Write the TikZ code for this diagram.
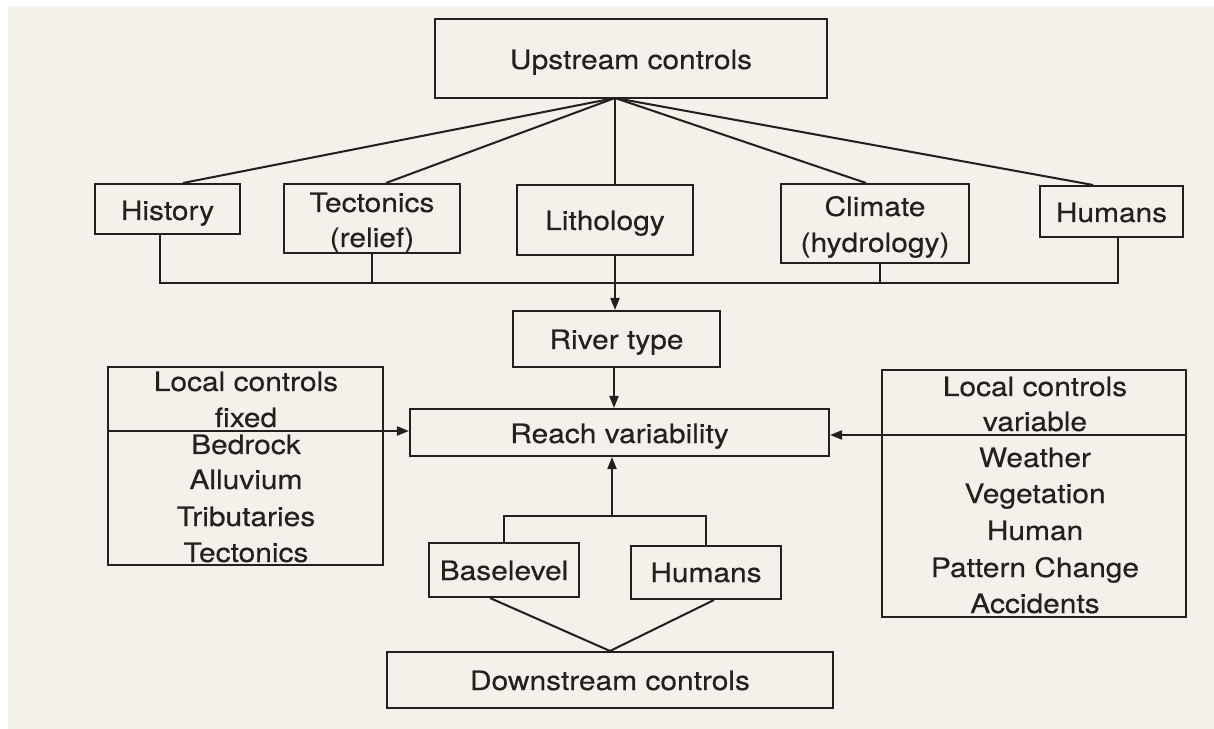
\documentclass[tikz,border=0pt]{standalone}
\usepackage{fontspec}
\setmainfont[FakeStretch=1.12,FakeBold=0.3]{TeX Gyre Heros}
\usetikzlibrary{arrows.meta,fit,calc}
\definecolor{paper}{RGB}{243,241,233}
\definecolor{ink}{RGB}{36,32,29}
\begin{document}
\begin{tikzpicture}[x=0.02cm,y=-0.02cm,
  box/.style={draw=ink,line width=1.15pt,inner sep=0pt},
  lbl/.style={anchor=base,text=ink,inner sep=0pt,font=\fontsize{15.2pt}{18pt}\selectfont},
  link/.style={draw=ink,line width=1.15pt},
  arr/.style={link,-{Triangle[length=0.24cm,width=0.18cm]}}]
\useasboundingbox (0,0) rectangle (1214,729);
\fill[paper] (-10,-10) rectangle (1224,739);
\fill[white] (-10,-10) rectangle (1224,6);
\fill[white] (-10,-10) rectangle (8,739);

% boxes
\node[box,fit={(435,19) (827,98)}] (up) {};
\node[box,fit={(95,184) (240,234)}] (hist) {};
\node[box,fit={(284,184) (460,253)}] (tec) {};
\node[box,fit={(517,185) (693,255)}] (lith) {};
\node[box,fit={(781,184) (969,263)}] (clim) {};
\node[box,fit={(1040,186) (1183,237)}] (hum) {};
\node[box,fit={(513,311) (720,367)}] (river) {};
\node[box,fit={(410,409) (829,456)}] (reach) {};
\node[box,fit={(108,367) (383,565)}] (lfix) {};
\node[box,fit={(882,370) (1186,617)}] (rvar) {};
\node[box,fit={(429,543) (579,597)}] (base) {};
\node[box,fit={(631,546) (781,599)}] (hum2) {};
\node[box,fit={(387,652) (833,708)}] (down) {};

% texts
\node[lbl] (tup) at (631,69) {Upstream controls};
\node[lbl] (thist) at (167.5,220) {History};
\node[lbl] (ttec1) at (372,212) {Tectonics};
\node[lbl] (ttec2) at (372,247) {(relief)};
\node[lbl] (tlith) at (605,230) {Lithology};
\node[lbl] (tclim1) at (875,216) {Climate};
\node[lbl] (tclim2) at (875,252) {(hydrology)};
\node[lbl] (thum) at (1111.5,222) {Humans};
\node[lbl] (triver) at (616.5,349) {River type};
\node[lbl] (treach) at (619.5,443) {Reach variability};
\foreach \t/\y [count=\i] in {Local controls/391,fixed/427,Bedrock/454,Alluvium/489,Tributaries/526,Tectonics/562}
  \node[lbl] (tlf\i) at (246,\y) {\t};
\foreach \t/\y [count=\i] in {Local controls/396,variable/431,Weather/467,Vegetation/503,Human/540,Pattern Change/577,Accidents/613}
  \node[lbl] (trv\i) at (1035,\y) {\t};
\node[lbl] (tbase) at (504,580) {Baselevel};
\node[lbl] (thum2) at (706,582) {Humans};
\node[lbl] (tdown) at (610,690) {Downstream controls};

% upstream fan
\coordinate (fan) at (615,98);
\draw[link] (fan) -- ($(hist.north)+(15.5,0)$);
\draw[link] (fan) -- ($(tec.north)+(14,0)$);
\draw[link] (fan) -- (fan |- lith.north);
\draw[link] (fan) -- ($(clim.north)+(-9,0)$);
\draw[link] (fan) -- ($(hum.north)+(-18.5,0)$);

% bus below the upstream factors
\coordinate (hs) at (160,283);
\coordinate (ms) at (1118,283);
\coordinate (cs) at (880,283);
\draw[link] (hs |- hist.south) -- (hs) -- (ms) -- (ms |- hum.south);
\draw[link] (tec.south) -- (tec.south |- hs);
\draw[link] (cs |- clim.south) -- (cs);
\draw[arr] (fan |- lith.south) -- (fan |- river.north);

% river type to reach
\coordinate (ax) at (614,0);
\draw[arr] (river.south -| ax) -- (reach.north -| ax);

% local controls
\coordinate (ld) at (0,431);
\draw[arr] (lfix.west |- ld) -- (reach.west |- ld);
\coordinate (rd) at (0,435);
\draw[link] (rvar.west |- rd) -- (rvar.east |- rd);
\draw[arr] (rvar.west |- rd) -- (reach.east |- rd);

% downstream
\coordinate (bb) at (612,516);
\draw[link] (base.north) |- (bb) -| (hum2.north);
\draw[arr] (bb) -- (reach.south -| bb);
\draw[link] ($(base.south)+(-14,0)$) -- (down.north) -- ($(hum2.south)+(8,0)$);
\end{tikzpicture}
\end{document}
